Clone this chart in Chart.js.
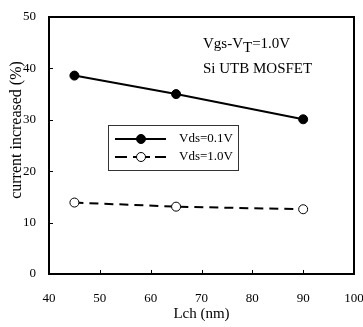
<!DOCTYPE html>
<html>
<head>
<meta charset="utf-8">
<script src="https://cdn.jsdelivr.net/npm/chart.js@4.4.0/dist/chart.umd.min.js"></script>
<style>
  html, body { margin: 0; padding: 0; background: #fff; }
  #wrap { width: 363px; height: 327px; }
</style>
</head>
<body>
<div id="wrap"><canvas id="chart" width="363" height="327"></canvas></div>
<script>
// channel length (nm)
const lengths = [45, 65, 90];
// current increase (%)
const vds01 = [38.6, 35.0, 30.1];
const vds10 = [13.9, 13.1, 12.6];
const seriesNames = ['Vds=0.1V', 'Vds=1.0V'];
const xTicks = [40, 50, 60, 70, 80, 90, 100];
const yTicks = [0, 10, 20, 30, 40, 50];

const FONT = '"Liberation Serif", "Times New Roman", serif';

// frame, inward ticks, titles, annotation and legend box
const decorPlugin = {
    id: 'decor',
    afterDraw(chart) {
        const ctx = chart.ctx;
        const a = chart.chartArea;
        const xs = chart.scales.x, ys = chart.scales.y;
        ctx.save();

        ctx.strokeStyle = '#000';
        ctx.lineWidth = 2;
        ctx.strokeRect(a.left, a.top, a.right - a.left, a.bottom - a.top);

        ctx.lineWidth = 1;
        ctx.beginPath();
        xTicks.forEach(v => {
            const px = Math.round(xs.getPixelForValue(v)) + 0.5;
            ctx.moveTo(px, a.bottom);
            ctx.lineTo(px, a.bottom - 4);
        });
        yTicks.forEach(v => {
            const py = Math.round(ys.getPixelForValue(v)) + 0.5;
            ctx.moveTo(a.left, py);
            ctx.lineTo(a.left + 4, py);
        });
        ctx.stroke();

        ctx.fillStyle = '#000';
        ctx.font = '15px ' + FONT;
        ctx.textAlign = 'center';
        ctx.textBaseline = 'middle';
        ctx.fillText('Lch (nm)', (a.left + a.right) / 2, 314);

        ctx.save();
        ctx.translate(17, 130);
        ctx.rotate(-Math.PI / 2);
        ctx.font = '16px ' + FONT;
        ctx.fillText('current increased (%)', 0, 0);
        ctx.restore();

        // annotation
        ctx.textAlign = 'left';
        ctx.textBaseline = 'alphabetic';
        let x = 203;
        ctx.fillText('Vgs-V', x, 48);
        x += ctx.measureText('Vgs-V').width;
        ctx.fillText('T', x, 52);
        x += ctx.measureText('T').width;
        ctx.fillText('=1.0V', x, 48);
        ctx.fillText('Si UTB MOSFET', 203, 73);

        // legend box
        ctx.lineWidth = 1;
        ctx.strokeStyle = '#333';
        ctx.strokeRect(108.5, 125.5, 130, 45);
        const rows = [139, 157];
        chart.data.datasets.forEach((ds, i) => {
            const y = rows[i];
            ctx.strokeStyle = '#000';
            ctx.lineWidth = ds.borderWidth;
            ctx.beginPath();
            if (ds.borderDash) {
                ctx.moveTo(115, y); ctx.lineTo(127, y);
                ctx.moveTo(133, y); ctx.lineTo(150, y);
                ctx.moveTo(155, y); ctx.lineTo(166, y);
            } else {
                ctx.moveTo(115, y); ctx.lineTo(166, y);
            }
            ctx.stroke();
            ctx.beginPath();
            ctx.arc(141, y, ds.pointRadius, 0, Math.PI * 2);
            ctx.fillStyle = ds.pointBackgroundColor;
            ctx.fill();
            ctx.lineWidth = 1;
            ctx.stroke();
            ctx.fillStyle = '#000';
            ctx.font = '13px ' + FONT;
            ctx.textBaseline = 'middle';
            ctx.fillText(ds.label, 179, y);
        });
        ctx.restore();
    }
};

new Chart(document.getElementById('chart'), {
    type: 'line',
    data: {
        datasets: [
            {
                label: seriesNames[0],
                data: lengths.map((l, i) => ({ x: l, y: vds01[i] })),
                borderColor: '#000',
                borderWidth: 2,
                pointRadius: 4.5,
                pointBackgroundColor: '#000',
                pointBorderColor: '#000',
                pointBorderWidth: 1,
                tension: 0
            },
            {
                label: seriesNames[1],
                data: lengths.map((l, i) => ({ x: l, y: vds10[i] })),
                borderColor: '#000',
                borderWidth: 2,
                borderDash: [9, 6],
                pointRadius: 4.5,
                pointBackgroundColor: '#fff',
                pointBorderColor: '#000',
                pointBorderWidth: 1,
                tension: 0
            }
        ]
    },
    options: {
        responsive: false,
        animation: false,
        layout: { padding: { top: 17, right: 9, left: 0, bottom: 0 } },
        plugins: {
            legend: { display: false },
            tooltip: { enabled: false }
        },
        scales: {
            x: {
                type: 'linear',
                min: 40,
                max: 100,
                afterBuildTicks: s => { s.ticks = xTicks.map(v => ({ value: v })); },
                afterFit: s => { s.height = 53; s.paddingLeft = 0; s.paddingRight = 0; },
                grid: { display: false },
                border: { display: false },
                ticks: { color: '#000', font: { family: FONT, size: 13 }, padding: 9, maxRotation: 0 }
            },
            y: {
                min: 0,
                max: 50,
                afterBuildTicks: s => { s.ticks = yTicks.map(v => ({ value: v })); },
                afterFit: s => { s.width = 49; s.paddingTop = 0; s.paddingBottom = 0; },
                grid: { display: false },
                border: { display: false },
                ticks: { color: '#000', font: { family: FONT, size: 13 }, padding: 5 }
            }
        }
    },
    plugins: [decorPlugin]
});
</script>
</body>
</html>
